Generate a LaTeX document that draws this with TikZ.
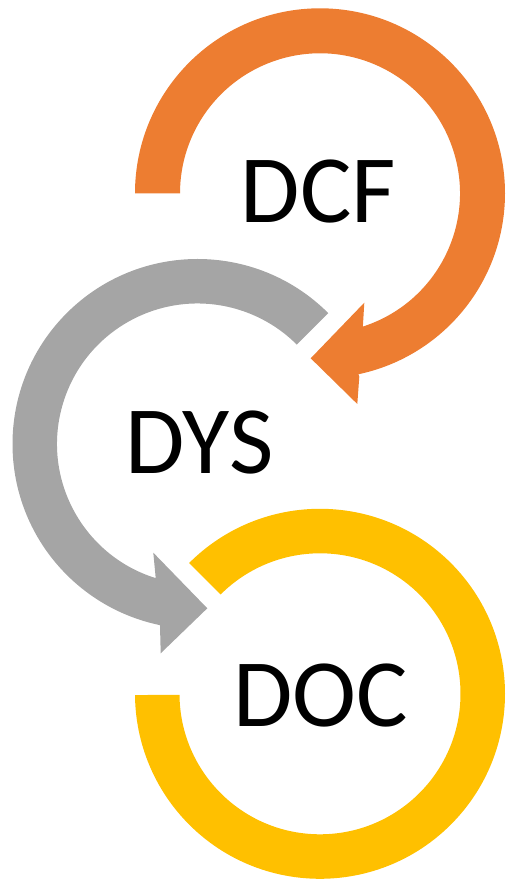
\documentclass[tikz,border=0pt]{standalone}
\usepackage{fontspec}
\setmainfont{Carlito}
\definecolor{oran}{HTML}{ED7D31}
\definecolor{gra}{HTML}{A5A5A5}
\definecolor{gol}{HTML}{FFC000}
\begin{document}
\begin{tikzpicture}[x=1pt,y=1pt,lab/.style={inner sep=0pt,anchor=base,text=black,font=\fontsize{96.5}{96.5}\selectfont}]
\useasboundingbox (0,0) rectangle (506,879);
\coordinate (oc) at (320,685.7);
\coordinate (gc) at (197.5,435);
\coordinate (yc) at (320,185.2);
% orange arrow
\fill[oran] ([shift={(180:185)}]oc) arc[start angle=180,end angle=-78,radius=185]
  -- (359.3,502.3) -- (357.3,475) -- (310.7,520.7) -- (364.3,576.3) -- (362.7,549.7)
  -- ([shift={(-72.6:140)}]oc) arc[start angle=-72.6,end angle=180,radius=140] -- cycle;
% grey arrow
\fill[gra] ([shift={(45:185)}]gc) arc[start angle=45,end angle=258.3,radius=185]
  -- (160.7,225.7) -- (207.3,270.7) -- (153.3,326.3)
  -- ([shift={(252.7:140.5)}]gc) arc[start angle=252.7,end angle=45,radius=140.5] -- cycle;
% gold ring
\fill[gol] ([shift={(135:185)}]yc) arc[start angle=135,end angle=-179.6,radius=185]
  -- ([shift={(-179.6:140.5)}]yc) arc[start angle=-179.6,end angle=135,radius=140.5] -- cycle;
\node[lab] (dcf) at (318.5,656.5) {DCF};
\node[lab] (dys) at (199.5,405) {DYS};
\node[lab] (doc) at (321,152.5) {DOC};
\end{tikzpicture}
\end{document}
